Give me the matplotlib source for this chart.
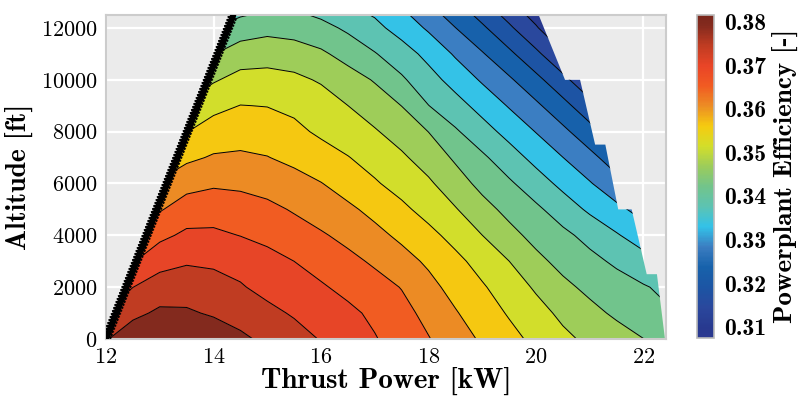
import numpy as np
import matplotlib
matplotlib.use("Agg")
import matplotlib.pyplot as plt
from matplotlib import patheffects
from matplotlib.cm import ScalarMappable
from matplotlib.colors import LinearSegmentedColormap, Normalize
from matplotlib.patches import Polygon

plt.rcParams["font.family"] = "cmr10"
plt.rcParams["mathtext.fontset"] = "cm"
plt.rcParams["axes.formatter.use_mathtext"] = True

# grid of the efficiency map (thrust power x altitude)
power_kw = [12.0, 12.5, 13.0, 13.5, 14.0, 14.5, 15.0, 15.5, 16.0, 16.5, 17.0,
            17.5, 18.0, 18.5, 19.0, 19.5, 20.0, 20.5, 21.0, 21.5, 22.0, 22.5]
altitude_ft = [0, 1000, 2000, 3000, 4000, 5000, 6000, 7000,
               8000, 9000, 10000, 11000, 12000, 13000]

# powerplant efficiency [-], one row per altitude
eff_0 = [0.3765, 0.3800, 0.3814, 0.3812, 0.3800, 0.3779, 0.3757, 0.3739, 0.3720, 0.3700, 0.3679,
         0.3656, 0.3632, 0.3605, 0.3577, 0.3551, 0.3526, 0.3501, 0.3481, 0.3463, 0.3445, 0.3428]
eff_1000 = [0.3727, 0.3757, 0.3777, 0.3775, 0.3763, 0.3748, 0.3733, 0.3718, 0.3702, 0.3686, 0.3667,
            0.3644, 0.3617, 0.3587, 0.3559, 0.3533, 0.3507, 0.3481, 0.3457, 0.3437, 0.3419, 0.3402]
eff_2000 = [0.3678, 0.3722, 0.3743, 0.3746, 0.3739, 0.3726, 0.3710, 0.3695, 0.3681, 0.3664, 0.3647,
            0.3628, 0.3597, 0.3568, 0.3542, 0.3514, 0.3485, 0.3455, 0.3434, 0.3418, 0.3402, 0.3386]
eff_3000 = [0.3632, 0.3673, 0.3707, 0.3718, 0.3715, 0.3708, 0.3694, 0.3676, 0.3659, 0.3642, 0.3623,
            0.3600, 0.3576, 0.3549, 0.3520, 0.3491, 0.3456, 0.3431, 0.3411, 0.3390, 0.3369, 0.3347]
eff_4000 = [0.3609, 0.3637, 0.3665, 0.3685, 0.3685, 0.3675, 0.3662, 0.3648, 0.3635, 0.3617, 0.3596,
            0.3574, 0.3550, 0.3522, 0.3491, 0.3458, 0.3431, 0.3409, 0.3384, 0.3356, 0.3328, 0.3300]
eff_5000 = [0.3562, 0.3595, 0.3626, 0.3651, 0.3655, 0.3650, 0.3640, 0.3626, 0.3608, 0.3592, 0.3571,
            0.3547, 0.3521, 0.3494, 0.3460, 0.3432, 0.3407, 0.3376, 0.3344, 0.3317, 0.3288, 0.3259]
eff_6000 = [0.3533, 0.3561, 0.3589, 0.3615, 0.3624, 0.3621, 0.3614, 0.3602, 0.3585, 0.3564, 0.3542,
            0.3520, 0.3498, 0.3464, 0.3432, 0.3405, 0.3373, 0.3340, 0.3309, 0.3275, 0.3236, 0.3193]
eff_7000 = [0.3509, 0.3531, 0.3553, 0.3574, 0.3588, 0.3591, 0.3585, 0.3571, 0.3555, 0.3539, 0.3519,
            0.3498, 0.3470, 0.3438, 0.3406, 0.3372, 0.3338, 0.3306, 0.3273, 0.3233, 0.3187, 0.3136]
eff_8000 = [0.3467, 0.3490, 0.3513, 0.3536, 0.3557, 0.3563, 0.3559, 0.3547, 0.3530, 0.3513, 0.3495,
            0.3471, 0.3444, 0.3404, 0.3370, 0.3337, 0.3304, 0.3270, 0.3230, 0.3185, 0.3134, 0.3082]
eff_9000 = [0.3423, 0.3448, 0.3474, 0.3499, 0.3525, 0.3538, 0.3536, 0.3528, 0.3513, 0.3491, 0.3468,
            0.3444, 0.3399, 0.3369, 0.3336, 0.3302, 0.3268, 0.3228, 0.3182, 0.3131, 0.3079, 0.3032]
eff_10000 = [0.3393, 0.3416, 0.3439, 0.3462, 0.3486, 0.3506, 0.3507, 0.3501, 0.3486, 0.3464, 0.3441,
             0.3405, 0.3369, 0.3335, 0.3300, 0.3266, 0.3226, 0.3180, 0.3128, 0.3079, 0.3032, 0.2986]
eff_11000 = [0.3350, 0.3373, 0.3396, 0.3419, 0.3443, 0.3467, 0.3472, 0.3466, 0.3452, 0.3428, 0.3401,
             0.3372, 0.3339, 0.3300, 0.3263, 0.3223, 0.3177, 0.3125, 0.3074, 0.3028, 0.2981, 0.2935]
eff_12000 = [0.3315, 0.3336, 0.3356, 0.3377, 0.3398, 0.3421, 0.3431, 0.3426, 0.3413, 0.3390, 0.3364,
             0.3334, 0.3299, 0.3260, 0.3221, 0.3175, 0.3125, 0.3074, 0.3028, 0.2981, 0.2935, 0.2889]
eff_13000 = [0.3270, 0.3291, 0.3312, 0.3333, 0.3354, 0.3367, 0.3381, 0.3386, 0.3369, 0.3351, 0.3333,
             0.3298, 0.3259, 0.3219, 0.3174, 0.3127, 0.3084, 0.3043, 0.2996, 0.2950, 0.2904, 0.2857]

# operating envelope: minimum / maximum thrust power vs altitude
pmin_kw = [12.0, 14.37]
pmin_alt = [0, 12500]
pmax_kw = [22.40, 22.25, 22.06, 21.78, 21.53, 21.29, 21.10, 20.82, 20.54, 20.05]
pmax_alt = [0, 2500, 2500, 5000, 5000, 7500, 7500, 10000, 10000, 12500]

eff_min, eff_max = 0.3074, 0.3815
cbar_ticks = [0.31, 0.32, 0.33, 0.34, 0.35, 0.36, 0.37, 0.38]
x_ticks = [12, 14, 16, 18, 20, 22]
y_ticks = [0, 2000, 4000, 6000, 8000, 10000, 12000]

band_colors = ["#28398f", "#2a489d", "#1c55a4", "#1762ab", "#3b7dc1", "#33c2e8",
               "#5cc3b3", "#72c48b", "#9ccc5b", "#d3de2a", "#f5cb10", "#ec8d24",
               "#f15b22", "#e94527", "#c03c22", "#842a1e"]
nb = len(band_colors)
anchors = [(0.0, "#2b3990")] + [((k + 0.5) / nb, c) for k, c in enumerate(band_colors)] + [(1.0, "#7a261b")]
cmap = LinearSegmentedColormap.from_list("pp", anchors)
norm = Normalize(eff_min, eff_max)
levels = np.linspace(eff_min, eff_max, nb + 1)

Z = np.array([eff_0, eff_1000, eff_2000, eff_3000, eff_4000, eff_5000, eff_6000,
              eff_7000, eff_8000, eff_9000, eff_10000, eff_11000, eff_12000, eff_13000])
P, H = np.meshgrid(power_kw, altitude_ft)

fig = plt.figure(figsize=(8.05, 4.04), dpi=100)
ax = fig.add_axes([0.1317, 0.1609, 0.6957, 0.802])
cax = fig.add_axes([0.8658, 0.1634, 0.0211, 0.7995])

ax.set_facecolor("#ebebeb")
ax.set_axisbelow(True)
ax.grid(True, color="white", lw=1.6)

region = Polygon(list(zip(pmin_kw, pmin_alt)) + list(zip(pmax_kw[::-1], pmax_alt[::-1])),
                 closed=True, transform=ax.transData, fc="none", ec="none")

cf = ax.contourf(P, H, Z, levels=levels, cmap=cmap, norm=norm, antialiased=True)
cl = ax.contour(P, H, Z, levels=levels[1:-1], colors="k", linewidths=0.7)
cf.set_clip_path(region)
cl.set_clip_path(region)

# minimum power limit, drawn as a thick serrated line
ax.plot(pmin_kw, pmin_alt, color="k", lw=3.8, zorder=5,
        path_effects=[patheffects.withTickedStroke(spacing=2.3, angle=120, length=1.3, linewidth=1.6),
                      patheffects.withTickedStroke(spacing=2.3, angle=-120, length=1.3, linewidth=1.6),
                      patheffects.Normal()])

ax.set_xlim(12, 22.42)
ax.set_ylim(0, 12500)
ax.set_xticks(x_ticks)
ax.set_yticks(y_ticks)
ax.tick_params(length=0, labelsize=16, pad=6)
for s in ax.spines.values():
    s.set_color("#cccccc")
    s.set_linewidth(1.5)

ax.set_xlabel("Thrust Power [kW]", fontfamily="cmb10", fontsize=21, labelpad=0)
ax.set_ylabel("Altitude [ft]", fontfamily="cmb10", fontsize=20, labelpad=6)

cb = fig.colorbar(ScalarMappable(norm=norm, cmap=cmap), cax=cax, ticks=cbar_ticks)
cb.outline.set_edgecolor("#bbbbbb")
cb.outline.set_linewidth(1.2)
cax.tick_params(length=0, pad=7)
cax.set_yticklabels([f"{t:.2f}" for t in cbar_ticks], fontfamily="cmb10", fontsize=17)
cb.set_label("Powerplant Efficiency [-]", fontfamily="cmb10", fontsize=19.5, labelpad=5)

fig.savefig("out.png", dpi=100)
